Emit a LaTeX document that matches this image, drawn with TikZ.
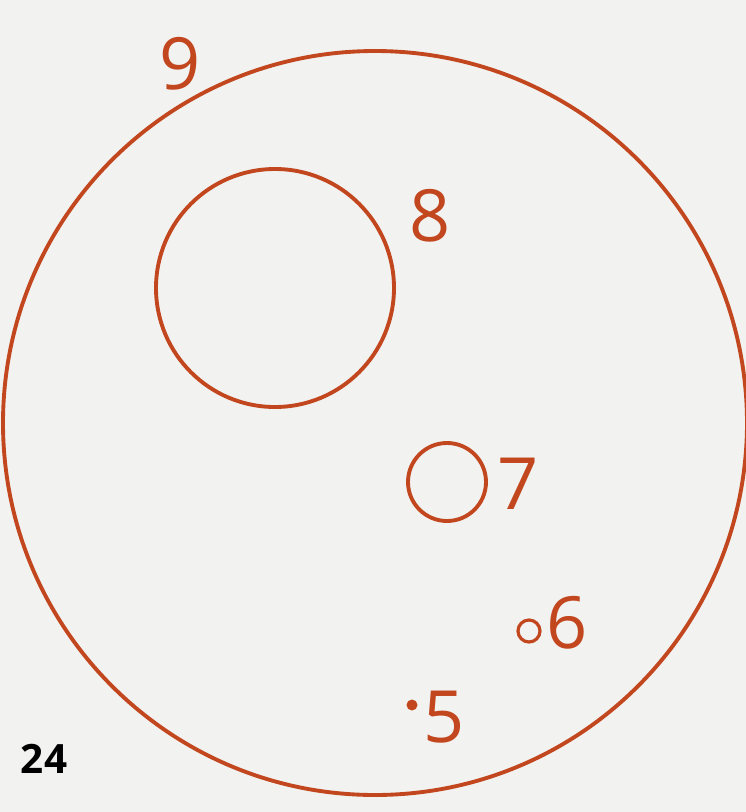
\documentclass[tikz,border=0pt]{standalone}
\usepackage{fontspec}
\setmainfont{Open Sans}
\usepackage{tikz}
\usetikzlibrary{positioning, calc}
\definecolor{rust}{HTML}{C2461E}
\definecolor{paper}{HTML}{F2F2F0}

\begin{document}
\begin{tikzpicture}[
    x=0.02cm, y=-0.02cm,
    ring/.style={draw=rust, circle, inner sep=0pt, line width=2.2pt},
    num/.style={text=rust, font=\fontsize{41}{41}\selectfont, inner sep=0pt},
]
    \fill[paper] (0,0) rectangle (746,812);
    \useasboundingbox (0,0) rectangle (746,812);

    % circles
    \node[ring, minimum size=744*0.02cm] (c9) at (375,423) {};
    \node[ring, minimum size=238*0.02cm] (c8) at (275,288) {};
    \node[ring, minimum size=78*0.02cm] (c7) at (447,482) {};
    \node[ring, minimum size=22*0.02cm, line width=1.8pt] (c6) at (529,631) {};
    \node[circle, fill=rust, inner sep=0pt, minimum size=11*0.02cm] (c5) at (412,705) {};

    % labels
    \node[num] (l9) at (180,64) {9};
    \node[num] (l8) at (430,216) {8};
    \node[num] (l7) at (518,484) {7};
    \node[num] (l6) at (567,623) {6};
    \node[num] (l5) at (444,717) {5};

    \node[font=\fontsize{23}{23}\selectfont\bfseries, inner sep=0pt] (fig) at (44,759) {24};
\end{tikzpicture}
\end{document}
